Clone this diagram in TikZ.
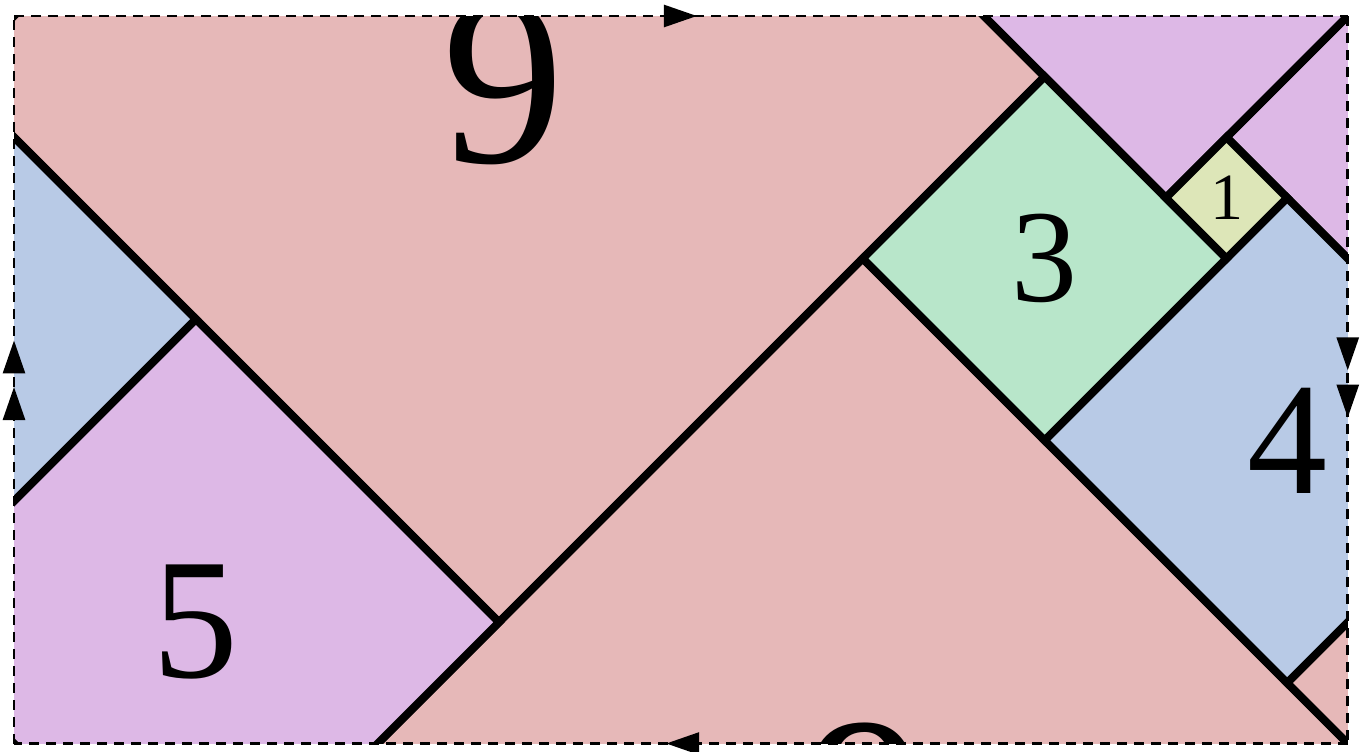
\documentclass[tikz,border=0pt]{standalone}
\usepackage{fontspec}
\setmainfont{Liberation Serif}
\usetikzlibrary{arrows.meta,decorations.markings}

% tile colours
\definecolor{tilered}{RGB}{230,184,184}
\definecolor{tileyellow}{RGB}{221,230,184}
\definecolor{tilegreen}{RGB}{184,230,202}
\definecolor{tileblue}{RGB}{184,202,230}
\definecolor{tilepurple}{RGB}{221,184,230}

\tikzset{
    tile/.style={draw=black, line width=4pt},
    numtext/.style={font=\fontsize{#1}{#1}\selectfont, inner sep=0pt},
    gluedge/.style={line width=1.4pt, dash pattern=on 5pt off 3.5pt},
    onearrow/.style={postaction={decorate, solid}, decoration={markings,
        mark=at position #1 with {\arrow{Triangle[length=16.5pt,width=11pt]}}}},
    twoarrows/.style 2 args={postaction={decorate, solid}, decoration={markings,
        mark=at position #1 with {\arrow{Triangle[length=16.5pt,width=11pt]}},
        mark=at position #2 with {\arrow{Triangle[length=16.5pt,width=11pt]}}}}
}

% a square standing on its corner: centre, half diagonal, colour
\newcommand{\diamondtile}[3]{%
    \filldraw[tile, fill=#3] (#1) +(-#2,0) -- +(0,-#2) -- +(#2,0) -- +(0,#2) -- cycle;}

\begin{document}
\begin{tikzpicture}[x=60.625pt, y=-60.625pt]
    \useasboundingbox (-0.11546,-0.13196) rectangle (11.10928,6.06186);

    % Corners of the sheet
    \coordinate (tl) at (0,0);
    \coordinate (tr) at (11,0);
    \coordinate (br) at (11,6);
    \coordinate (bl) at (0,6);

    \begin{scope}
        \clip (tl) rectangle (br);

        % Square 9 and its glued pieces
        \diamondtile{4,0.5}{4.5}{tilered}
        \diamondtile{7,6.5}{4.5}{tilered}
        \diamondtile{15,5.5}{4.5}{tilered}

        % Square 5 and its glued pieces
        \diamondtile{1.5,5}{2.5}{tilepurple}
        \diamondtile{12.5,1}{2.5}{tilepurple}
        \diamondtile{9.5,-1}{2.5}{tilepurple}

        % Square 4 and its glued piece
        \diamondtile{10.5,3.5}{2}{tileblue}
        \diamondtile{-0.5,2.5}{2}{tileblue}

        % Squares 3 and 1
        \diamondtile{8.5,2}{1.5}{tilegreen}
        \diamondtile{10,1.5}{0.5}{tileyellow}

        % Sizes
        \node[numtext=122pt] (n9) at (4.04,0.55) {9};
        \node[numtext=122pt] (n9b) at (7.03,6.51) {9};
        \node[numtext=86pt] (n5) at (1.5,5) {5};
        \node[numtext=80pt] (n4) at (10.5,3.5) {4};
        \node[numtext=66pt] (n3) at (8.5,2) {3};
        \node[numtext=33pt] (n1) at (10,1.5) {1};
    \end{scope}

    % Glued edges
    \draw[gluedge, onearrow=0.512] (tl) -- (tr);
    \draw[gluedge, onearrow=0.511] (br) -- (bl);
    \draw[gluedge, twoarrows={0.49}{0.554}] (bl) -- (tl);
    \draw[gluedge, twoarrows={0.487}{0.552}] (tr) -- (br);
\end{tikzpicture}
\end{document}
